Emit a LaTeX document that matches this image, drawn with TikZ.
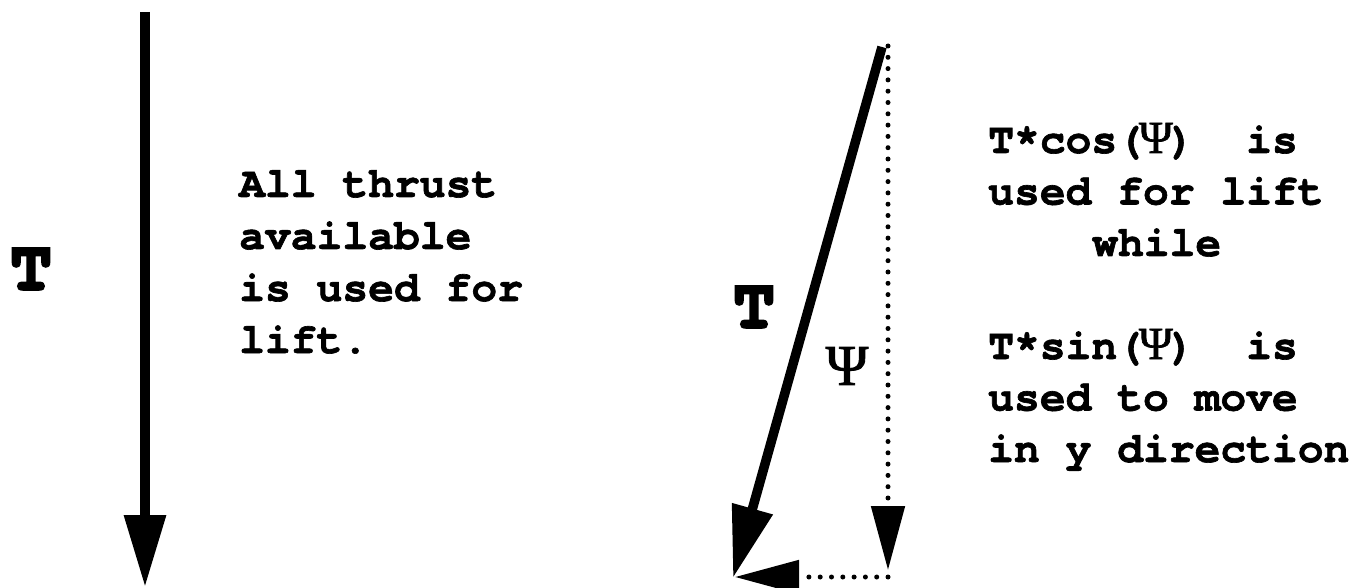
\documentclass[tikz,border=0pt]{standalone}
\usepackage{fontspec}
\setmainfont{Liberation Serif}
\newfontfamily\curbold{texgyrecursor-bold.otf}[FakeBold=1.5]
\newfontfamily\curheavy{texgyrecursor-bold.otf}[FakeBold=3]
\newfontfamily\psifont{Liberation Serif}[FakeBold=1.5]
\usetikzlibrary{arrows.meta}
\newcommand{\tpsi}{\makebox[0.6em][c]{\psifont\fontsize{46}{46}\selectfont Ψ}}
\tikzset{
  txt/.style={anchor=base west, inner sep=0pt, font=\curbold\fontsize{43}{51}\selectfont},
  bigT/.style={inner sep=0pt, font=\curheavy\fontsize{71}{74}\selectfont},
  psilbl/.style={inner sep=0pt, font=\psifont\fontsize{58}{60}\selectfont},
  vecthick/.style={line width=9.5pt, -{Triangle[length=72pt,width=40pt]}},
  vecdot/.style={line width=5pt, line cap=round, dash pattern=on 0pt off 11.3pt, -{Triangle[length=64pt,width=33pt]}},
}
\begin{document}
\begin{tikzpicture}[x=1pt,y=-1pt]
\useasboundingbox (0,0) rectangle (1355,588);
% left vector
\coordinate (lt) at (145,12);
\coordinate (lb) at (145,587);
\draw[vecthick] (lt) -- (lb);
\node[bigT] (lT) at (31,269) {T};
\node[txt] (l1) at (239,197) {All thrust};
\node[txt] (l2) at (239,249) {available};
\node[txt] (l3) at (239,301) {is used for};
\node[txt] (l4) at (239,353) {lift.};
% right vectors
\coordinate (rt) at (882,47);
\coordinate (rb) at (733,578);
\coordinate (dt) at (888,46);
\coordinate (db) at (888,570);
\coordinate (hs) at (888,577);
\coordinate (he) at (735,577);
\draw[vecdot] (dt) -- (db);
\draw[vecdot] (hs) -- (he);
\draw[vecthick] (rt) -- (rb);
\node[bigT] (rT) at (754,307) {T};
\node[psilbl] (psi) at (847,366) {Ψ};
% right text
\node[txt] (r1) at (988,153) {T*cos(\tpsi)\ \ is};
\node[txt] (r2) at (988,204.5) {used for lift};
\node[txt] (r3) at (1092,256) {while};
\node[txt] (r4) at (988,359) {T*sin(\tpsi)\ \ is};
\node[txt] (r5) at (988,410.5) {used to move};
\node[txt] (r6) at (988,462) {in y direction};
\end{tikzpicture}
\end{document}
